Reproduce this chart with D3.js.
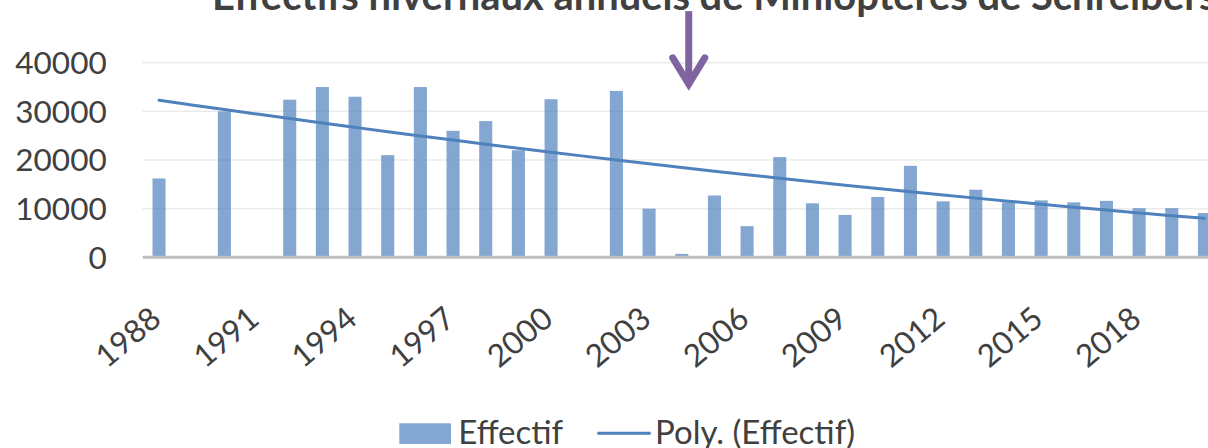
<!DOCTYPE html>
<html>
<head>
<meta charset="utf-8">
<script src="https://cdn.jsdelivr.net/npm/d3@7"></script>
<style>
  body { margin: 0; background: #fff; }
  svg { display: block; }
</style>
</head>
<body>
<div id="chart"></div>
<script>
(function () {
    'use strict';

    // winter counts per year (null = no count that year)
    const years = [1988, 1989, 1990, 1991, 1992, 1993, 1994, 1995, 1996, 1997, 1998,
        1999, 2000, 2001, 2002, 2003, 2004, 2005, 2006, 2007, 2008, 2009, 2010,
        2011, 2012, 2013, 2014, 2015, 2016, 2017, 2018, 2019, 2020];
    const effectif = [16200, null, 30000, null, 32400, 35000, 33000, 21000, 35000, 26000, 28000,
        22000, 32500, null, 34200, 10000, 700, 12700, 6400, 20600, 11100, 8700, 12400,
        18800, 11500, 13900, 11300, 11700, 11300, 11600, 10100, 10100, 9100];
    const xTickLabels = ['1988', '1991', '1994', '1997', '2000', '2003', '2006', '2009', '2012', '2015', '2018'];
    const yTicks = [0, 10000, 20000, 30000, 40000];
    const titleText = 'Effectifs hivernaux annuels de Minioptères de Schreibers';
    const legendLabels = ['Effectif', 'Poly. (Effectif)'];
    const markedYear = 2004;

    const width = 1208;
    const height = 448;
    const plot = { left: 142.7, right: 1220.8, top: 62.7, bottom: 257.3 };
    const font = 'Lato, "Open Sans", sans-serif';
    const textColor = '#404040';
    const blue = '#4F81BD';

    const svg = d3.select('#chart').append('svg')
        .attr('width', width)
        .attr('height', height)
        .style('overflow', 'hidden');

    const x = d3.scaleBand()
        .domain(years)
        .range([plot.left, plot.right])
        .paddingInner(0.6)
        .paddingOuter(0.3);
    const cx = y => x(y) + x.bandwidth() / 2;

    const yScale = d3.scaleLinear()
        .domain([0, 40000])
        .range([plot.bottom, plot.top]);

    // gridlines
    svg.append('g')
        .selectAll('line')
        .data(yTicks.filter(d => d > 0))
        .join('line')
        .attr('x1', plot.left)
        .attr('x2', plot.right)
        .attr('y1', d => yScale(d))
        .attr('y2', d => yScale(d))
        .attr('stroke', '#EBEBEB')
        .attr('stroke-width', 1.5);

    // bars
    const rows = years.map((yr, i) => ({ year: yr, value: effectif[i] })).filter(d => d.value != null);
    svg.append('g')
        .selectAll('rect')
        .data(rows)
        .join('rect')
        .attr('x', d => x(d.year))
        .attr('width', x.bandwidth())
        .attr('y', d => yScale(d.value))
        .attr('height', d => yScale(0) - yScale(d.value))
        .attr('fill', blue)
        .attr('fill-opacity', 0.7);

    // baseline
    svg.append('line')
        .attr('x1', plot.left)
        .attr('x2', plot.right)
        .attr('y1', yScale(0))
        .attr('y2', yScale(0))
        .attr('stroke', '#BFBFBF')
        .attr('stroke-width', 3);

    // 2nd order polynomial trend (least squares on category index, like Excel)
    const pts = years.map((yr, i) => [i + 1, effectif[i]]).filter(p => p[1] != null);
    const S = k => d3.sum(pts, p => Math.pow(p[0], k));
    const T = k => d3.sum(pts, p => Math.pow(p[0], k) * p[1]);
    const A = [[S(0), S(1), S(2)], [S(1), S(2), S(3)], [S(2), S(3), S(4)]];
    const B = [T(0), T(1), T(2)];
    const det3 = m => m[0][0] * (m[1][1] * m[2][2] - m[1][2] * m[2][1])
        - m[0][1] * (m[1][0] * m[2][2] - m[1][2] * m[2][0])
        + m[0][2] * (m[1][0] * m[2][1] - m[1][1] * m[2][0]);
    const D = det3(A);
    const coef = [0, 1, 2].map(c => det3(A.map((r, i) => r.map((v, j) => j === c ? B[i] : v))) / D);
    const trend = years.map((yr, i) => ({ year: yr, value: coef[0] + coef[1] * (i + 1) + coef[2] * (i + 1) * (i + 1) }));

    svg.append('path')
        .datum(trend)
        .attr('fill', 'none')
        .attr('stroke', blue)
        .attr('stroke-width', 3)
        .attr('stroke-linecap', 'round')
        .attr('d', d3.line().x(d => cx(d.year)).y(d => yScale(d.value)).curve(d3.curveCatmullRom));

    // y axis labels
    svg.append('g')
        .attr('font-family', font)
        .attr('font-size', 31.5)
        .attr('fill', textColor)
        .attr('text-anchor', 'end')
        .selectAll('text')
        .data(yTicks)
        .join('text')
        .attr('x', 106.7)
        .attr('y', d => yScale(d))
        .attr('dy', '0.36em')
        .text(d => d);

    // x axis labels
    svg.append('g')
        .attr('font-family', font)
        .attr('font-size', 31.5)
        .attr('fill', textColor)
        .attr('text-anchor', 'end')
        .selectAll('text')
        .data(xTickLabels)
        .join('text')
        .attr('transform', d => `translate(${cx(+d) + 4},322) rotate(-40)`)
        .text(d => d);

    // title (cropped at the top and right in the reference)
    const title = svg.append('text')
        .attr('x', 212)
        .attr('y', 10)
        .attr('font-family', font)
        .attr('font-weight', 'bold')
        .attr('font-size', 40)
        .attr('fill', textColor)
        .text(titleText);
    const tw = title.node().getComputedTextLength();
    title.attr('font-size', 40 * 1005 / tw);

    // arrow pointing at the nearly empty year
    const ax = cx(markedYear) + 7;
    svg.append('path')
        .attr('d', `M${ax},${yScale(50600)}V${yScale(36000)}`)
        .attr('stroke', '#8064A2')
        .attr('stroke-width', 7)
        .attr('fill', 'none');
    svg.append('path')
        .attr('d', `M${ax - 16},${yScale(41000)}L${ax},${yScale(35600)}L${ax + 16},${yScale(41000)}`)
        .attr('stroke', '#8064A2')
        .attr('stroke-width', 7)
        .attr('stroke-linecap', 'round')
        .attr('stroke-linejoin', 'miter')
        .attr('fill', 'none');

    // legend
    const legend = svg.append('g')
        .attr('font-family', font)
        .attr('font-size', 33)
        .attr('fill', textColor);
    legend.append('rect')
        .attr('x', 399.3)
        .attr('y', 423.3)
        .attr('width', 51.7)
        .attr('height', 20.7)
        .attr('fill', blue)
        .attr('fill-opacity', 0.7);
    legend.append('text')
        .attr('x', 458.3)
        .attr('y', 444)
        .text(legendLabels[0]);
    legend.append('line')
        .attr('x1', 597.3)
        .attr('x2', 650.7)
        .attr('y1', 433.3)
        .attr('y2', 433.3)
        .attr('stroke', blue)
        .attr('stroke-width', 3);
    legend.append('text')
        .attr('x', 655)
        .attr('y', 444)
        .text(legendLabels[1]);
})();
</script>
</body>
</html>
